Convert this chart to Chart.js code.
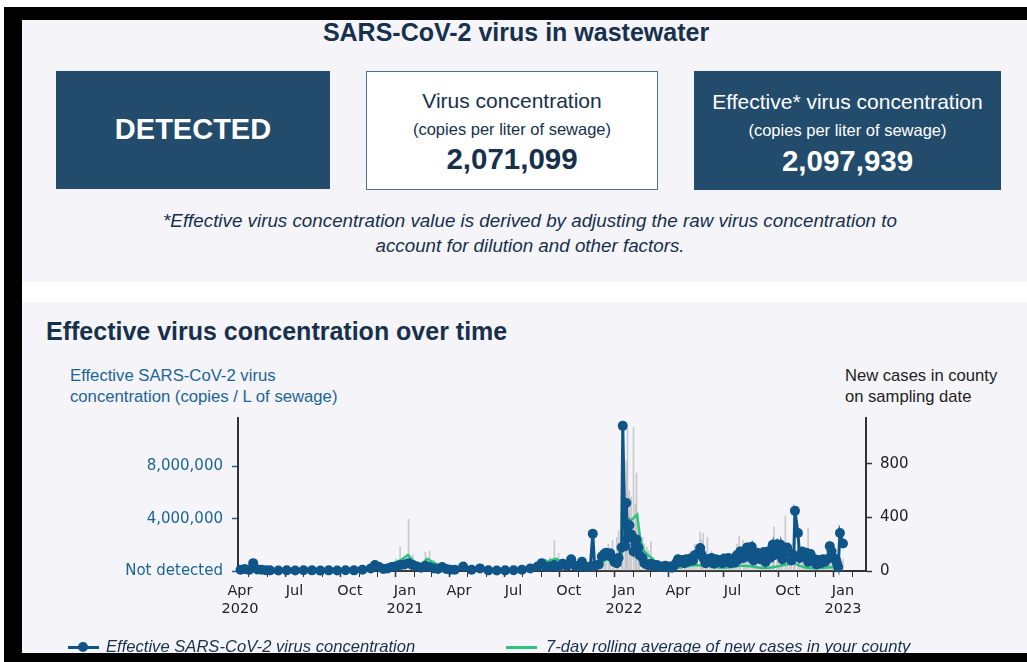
<!DOCTYPE html>
<html>
<head>
<meta charset="utf-8">
<script src="https://cdn.jsdelivr.net/npm/chart.js@4/dist/chart.umd.min.js"></script>
<style>
  html, body { margin: 0; padding: 0; }
  body { width: 1027px; height: 662px; position: relative; overflow: hidden; background: #fff;
         font-family: "Liberation Sans", Arial, sans-serif; color: #17304c; }
  .abs { position: absolute; white-space: nowrap; }
  .page { left: 22px; top: 20px; width: 1005px; height: 633px; background: #f4f4f9; }
  .band { left: 22px; top: 282px; width: 1005px; height: 20px; background: #fff; }
  .frame { background: #000; }
  .card { box-sizing: border-box; text-align: center; }
  .dark { background: #234b6b; color: #fff; }
  .light { background: #fff; border: 1px solid #4f6f8c; color: #17304c; }
  .card div { position: absolute; left: 0; right: 0; }
  #chartWrap { position: absolute; left: 22px; top: 405px; width: 1005px; height: 235px; }
</style>
</head>
<body>
<div class="abs page"></div>
<div class="abs band"></div>
<div class="abs frame" style="left:4px;top:7px;width:1023px;height:13px"></div>
<div class="abs frame" style="left:4px;top:7px;width:18px;height:655px"></div>

<div class="abs" style="left:22px;width:988px;top:17px;line-height:30px;text-align:center;font-weight:bold;font-size:25px;">SARS-CoV-2 virus in wastewater</div>

<div class="abs card dark" style="left:56px;top:71px;width:274px;height:118px;">
  <div style="top:41px;line-height:34px;font-size:29px;font-weight:bold;">DETECTED</div>
</div>
<div class="abs card light" style="left:366px;top:71px;width:292px;height:119px;">
  <div style="top:16px;line-height:26px;font-size:21px;">Virus concentration</div>
  <div style="top:46px;line-height:22px;font-size:16.5px;">(copies per liter of sewage)</div>
  <div style="top:70px;line-height:34px;font-size:29.5px;font-weight:bold;">2,071,099</div>
</div>
<div class="abs card dark" style="left:694px;top:71px;width:307px;height:119px;">
  <div style="top:18px;line-height:26px;font-size:21px;">Effective* virus concentration</div>
  <div style="top:48px;line-height:22px;font-size:16.5px;">(copies per liter of sewage)</div>
  <div style="top:73px;line-height:34px;font-size:29.5px;font-weight:bold;">2,097,939</div>
</div>

<div class="abs" style="left:30px;width:1000px;top:208px;line-height:25px;text-align:center;font-style:italic;font-size:18.8px;">*Effective virus concentration value is derived by adjusting the raw virus concentration to<br>account for dilution and other factors.</div>

<div class="abs" style="left:46px;top:316px;line-height:30px;font-weight:bold;font-size:25px;">Effective virus concentration over time</div>
<div class="abs" style="left:70px;top:365px;line-height:21px;font-size:16.7px;color:#1d6595;">Effective SARS-CoV-2 virus<br>concentration (copies / L of sewage)</div>
<div class="abs" style="left:845px;top:365px;line-height:21px;font-size:16.6px;color:#222;">New cases in county<br>on sampling date</div>

<div id="chartWrap"><canvas id="wwChart" width="1005" height="235"></canvas></div>

<div class="abs" style="left:68px;top:646px;width:31px;height:3px;background:#0f5588;"></div>
<div class="abs" style="left:78px;top:642px;width:10px;height:10px;border-radius:50%;background:#0f5588;"></div>
<div class="abs" style="left:106px;top:637px;line-height:20px;font-size:16.6px;font-style:italic;color:#17304c;">Effective SARS-CoV-2 virus concentration</div>
<div class="abs" style="left:506px;top:646px;width:31px;height:3px;background:#2ec27e;"></div>
<div class="abs" style="left:546px;top:637px;line-height:20px;font-size:16.6px;font-style:italic;color:#17304c;">7-day rolling average of new cases in your county</div>

<div class="abs frame" style="left:4px;top:653px;width:1023px;height:9px"></div>

<script>
// sampling dates with effective concentration (millions of copies / L) and new cases that day
const sampleDates = [
  '2020-04-02','2020-04-09','2020-04-16','2020-04-23','2020-04-30','2020-05-07','2020-05-14','2020-05-21',
  '2020-06-04','2020-06-18','2020-07-02','2020-07-16','2020-07-30','2020-08-13','2020-08-27','2020-09-10',
  '2020-09-24','2020-10-08','2020-10-22','2020-11-05','2020-11-12','2020-11-19','2020-11-26','2020-12-03',
  '2020-12-10','2020-12-17','2020-12-24','2020-12-31','2021-01-07','2021-01-14','2021-01-21','2021-01-28',
  '2021-02-04','2021-02-11','2021-02-18','2021-02-25','2021-03-04','2021-03-11','2021-03-18','2021-03-25',
  '2021-04-08','2021-04-22','2021-05-06','2021-05-20','2021-06-03','2021-06-17','2021-07-01','2021-07-15',
  '2021-07-29','2021-08-10','2021-08-17','2021-08-24','2021-08-31','2021-09-07','2021-09-14','2021-09-21',
  '2021-09-28','2021-10-05','2021-10-12','2021-10-19','2021-10-23','2021-10-30','2021-11-06','2021-11-10',
  '2021-11-13','2021-11-20','2021-11-25','2021-11-29','2021-12-02','2021-12-06','2021-12-09','2021-12-13',
  '2021-12-16','2021-12-20','2021-12-23','2021-12-28','2021-12-30','2022-01-03','2022-01-05','2022-01-07',
  '2022-01-10','2022-01-13','2022-01-17','2022-01-20','2022-01-22','2022-01-25','2022-01-27','2022-02-01',
  '2022-02-04','2022-02-08','2022-02-11','2022-02-15','2022-02-18','2022-02-22','2022-02-25','2022-03-01',
  '2022-03-04','2022-03-08','2022-03-11','2022-03-15','2022-03-18','2022-03-22','2022-03-25','2022-03-29',
  '2022-04-01','2022-04-05','2022-04-08','2022-04-12','2022-04-15','2022-04-19','2022-04-22','2022-04-26',
  '2022-04-29','2022-05-03','2022-05-08','2022-05-10','2022-05-13','2022-05-17','2022-05-20','2022-05-24',
  '2022-05-27','2022-05-31','2022-06-03','2022-06-07','2022-06-10','2022-06-14','2022-06-17','2022-06-21',
  '2022-06-24','2022-06-28','2022-07-01','2022-07-05','2022-07-08','2022-07-12','2022-07-14','2022-07-19',
  '2022-07-22','2022-07-25','2022-07-28','2022-08-02','2022-08-05','2022-08-09','2022-08-11','2022-08-16',
  '2022-08-19','2022-08-22','2022-08-25','2022-08-29','2022-09-01','2022-09-06','2022-09-08','2022-09-13',
  '2022-09-16','2022-09-19','2022-09-22','2022-09-27','2022-09-30','2022-10-04','2022-10-07','2022-10-11',
  '2022-10-13','2022-10-18','2022-10-21','2022-10-25','2022-10-28','2022-11-01','2022-11-04','2022-11-08',
  '2022-11-11','2022-11-15','2022-11-18','2022-11-22','2022-11-25','2022-11-29','2022-12-02','2022-12-06',
  '2022-12-10','2022-12-13','2022-12-16','2022-12-20','2022-12-22','2022-12-24','2022-12-27','2023-01-01'
];
const concentration = [
  0.10,0.15,0.08,0.60,0.12,0.10,0.06,0.05,
  0.04,0.05,0.04,0.06,0.05,0.03,0.05,0.04,
  0.06,0.05,0.10,0.20,0.45,0.30,0.15,0.20,
  0.30,0.35,0.45,0.50,0.60,0.45,0.35,0.25,
  0.40,0.30,0.20,0.15,0.30,0.15,0.10,0.10,
  0.35,0.10,0.20,0.05,0.04,0.05,0.06,0.10,
  0.20,0.35,0.60,0.30,0.35,0.45,0.30,0.55,
  0.40,0.90,0.40,0.35,0.70,0.30,0.35,2.85,
  0.40,0.50,1.10,1.30,1.40,1.20,1.35,1.00,
  0.70,0.60,1.00,1.80,11.10,1.90,5.20,2.50,
  3.50,2.80,1.50,2.00,2.40,1.80,1.20,1.00,
  0.60,0.50,0.45,0.55,0.40,0.35,0.45,0.30,
  0.35,0.30,0.40,0.30,0.35,0.25,0.40,0.60,
  0.90,0.70,0.85,0.60,0.90,0.75,0.95,0.80,
  1.20,1.30,1.75,1.30,1.00,0.60,0.90,0.70,
  1.00,0.55,0.90,0.70,0.85,0.60,0.95,0.70,
  1.00,0.60,0.90,0.65,1.20,0.90,1.50,1.00,
  1.40,1.80,1.10,1.85,0.80,1.30,1.40,0.90,
  1.20,1.45,0.70,1.50,1.00,2.00,1.20,2.05,
  1.30,2.00,0.90,1.50,1.80,1.40,0.80,1.20,
  4.60,2.90,1.00,1.50,1.20,1.40,0.70,1.30,
  0.80,0.90,0.50,0.85,0.60,0.90,0.70,0.90,
  1.90,1.50,1.00,0.90,0.60,0.30,2.90,2.097939
];
const casesOnDate = [
  8,12,10,15,9,6,5,4,
  3,2,4,6,5,4,5,3,
  6,8,12,25,30,40,35,50,
  60,90,180,100,385,120,70,60,
  140,150,80,60,50,40,30,25,
  30,20,15,8,6,5,8,12,
  25,50,70,90,100,230,130,90,
  60,70,50,40,45,35,40,45,
  50,60,80,120,150,200,100,230,
  150,250,300,450,870,650,820,1060,
  600,550,1070,500,730,350,280,250,
  200,180,150,220,100,80,60,50,
  40,60,30,25,30,40,35,60,
  80,50,110,70,120,90,150,100,
  200,170,290,230,280,130,250,110,
  150,90,120,80,100,130,90,70,
  100,80,110,150,200,260,180,230,
  150,200,170,150,130,120,170,100,
  90,120,100,140,90,120,330,150,
  110,180,120,410,200,150,120,500,
  350,180,120,100,90,80,320,70,
  90,60,80,70,50,90,70,110,
  130,90,80,120,70,60,100,90
];

// 7-day rolling average of new cases (right axis)
const avgDates = [
  '2020-04-01','2020-04-20','2020-05-15','2020-06-15','2020-07-15','2020-08-15','2020-09-15','2020-10-10',
  '2020-10-25','2020-11-10','2020-11-25','2020-12-10','2020-12-25','2021-01-06','2021-01-14','2021-01-22',
  '2021-01-30','2021-02-07','2021-02-15','2021-02-25','2021-03-10','2021-03-25','2021-04-10','2021-05-01',
  '2021-06-01','2021-07-01','2021-07-20','2021-08-05','2021-08-20','2021-09-01','2021-09-10','2021-09-22',
  '2021-10-05','2021-10-20','2021-11-05','2021-11-20','2021-12-01','2021-12-12','2021-12-22','2021-12-28',
  '2022-01-04','2022-01-10','2022-01-16','2022-01-23','2022-01-28','2022-02-03','2022-02-10','2022-02-18',
  '2022-02-26','2022-03-08','2022-03-20','2022-04-01','2022-04-15','2022-05-01','2022-05-15','2022-06-01',
  '2022-06-15','2022-07-01','2022-07-15','2022-08-01','2022-08-15','2022-09-01','2022-09-15','2022-10-01',
  '2022-10-10','2022-10-20','2022-11-01','2022-11-15','2022-12-01','2022-12-15','2023-01-01'
];
const rollingAvg = [
  5,8,5,3,5,4,4,8,
  12,25,35,55,80,120,80,50,
  55,90,70,45,35,25,25,15,
  8,6,15,35,60,80,90,65,
  45,35,35,50,80,90,70,120,
  260,370,390,420,240,150,120,90,
  50,30,20,25,35,45,40,30,
  25,30,40,35,25,25,35,50,
  60,40,25,20,25,30,25
];

// x axis tick marks (month starts) and their labels
const majorTicks = ['2020-04-01','2020-07-01','2020-10-01','2021-01-01','2021-04-01','2021-07-01',
  '2021-10-01','2022-01-01','2022-04-01','2022-07-01','2022-10-01','2023-01-01'];
const majorLabels = [['Apr','2020'],'Jul','Oct',['Jan','2021'],'Apr','Jul','Oct',['Jan','2022'],
  'Apr','Jul','Oct',['Jan','2023']];
const leftTicks = [0, 4000000, 8000000];
const rightTicks = [0, 400, 800];

const toDay = s => Date.UTC(+s.slice(0, 4), +s.slice(5, 7) - 1, +s.slice(8, 10)) / 864e5;

const labelFor = {};
majorTicks.forEach((d, i) => { labelFor[toDay(d)] = majorLabels[i]; });
const monthTicks = [];
for (let y = 2020, m = 3; y < 2023 || m <= 1; m++) {
  if (m > 11) { m = 0; y++; }
  monthTicks.push(Date.UTC(y, m, 1) / 864e5);
}

const xMin = toDay('2020-04-01') - 3.3;
const xMax = xMin + 1046.7;

Chart.defaults.font.family = 'DejaVu Sans';
Chart.defaults.font.size = 15;

const ctx = document.getElementById('wwChart').getContext('2d');
new Chart(ctx, {
  type: 'line',
  data: {
    datasets: [
      {
        label: 'Effective SARS-CoV-2 virus concentration',
        data: sampleDates.map((d, i) => ({ x: toDay(d), y: concentration[i] * 1e6 })),
        yAxisID: 'y',
        borderColor: '#0f5588',
        backgroundColor: '#0f5588',
        borderWidth: 3,
        pointRadius: 5,
        pointBorderWidth: 0,
        tension: 0,
        clip: false,
        order: 0
      },
      {
        label: '7-day rolling average of new cases in your county',
        data: avgDates.map((d, i) => ({ x: toDay(d), y: rollingAvg[i] })),
        yAxisID: 'y1',
        borderColor: '#2ec27e',
        borderWidth: 2.5,
        pointRadius: 0,
        tension: 0,
        order: 1
      },
      {
        type: 'bar',
        label: 'New cases',
        data: sampleDates.map((d, i) => ({ x: toDay(d), y: casesOnDate[i] })),
        yAxisID: 'y1',
        backgroundColor: 'rgba(150,150,150,0.45)',
        barThickness: 1,
        order: 2
      }
    ]
  },
  options: {
    responsive: false,
    animation: false,
    devicePixelRatio: 1,
    layout: { padding: { top: 13 } },
    plugins: { legend: { display: false }, tooltip: { enabled: false } },
    scales: {
      x: {
        type: 'linear',
        min: xMin,
        max: xMax,
        offset: false,
        afterFit: s => { s.height = 69; },
        afterBuildTicks: s => { s.ticks = monthTicks.map(v => ({ value: v })); },
        grid: {
          drawOnChartArea: false,
          tickLength: 6,
          tickColor: '#333',
          tickWidth: c => (c.tick && labelFor[c.tick.value] ? 1.5 : 1)
        },
        border: { color: '#333', width: 2 },
        ticks: {
          autoSkip: false,
          maxRotation: 0,
          padding: 6,
          color: '#222',
          font: { size: 14.5 },
          callback: v => labelFor[v] || ''
        }
      },
      y: {
        position: 'left',
        min: 0,
        max: 11700000,
        afterFit: s => { s.width = 216; s.paddingTop = 0; s.paddingBottom = 0; },
        afterBuildTicks: s => { s.ticks = leftTicks.map(v => ({ value: v })); },
        grid: { drawOnChartArea: false, tickLength: 6, tickColor: '#1d6595', tickWidth: 1.5 },
        border: { color: '#333', width: 2 },
        ticks: {
          color: '#1d6595',
          padding: 9,
          callback: v => (v === 0 ? 'Not detected' : v.toLocaleString('en-US'))
        }
      },
      y1: {
        position: 'right',
        min: 0,
        max: 1140,
        afterFit: s => { s.width = 161; s.paddingTop = 0; s.paddingBottom = 0; },
        afterBuildTicks: s => { s.ticks = rightTicks.map(v => ({ value: v })); },
        grid: { drawOnChartArea: false, tickLength: 6, tickColor: '#333', tickWidth: 1.5 },
        border: { color: '#333', width: 2 },
        ticks: { color: '#222', padding: 8 }
      }
    }
  }
});
</script>
</body>
</html>
